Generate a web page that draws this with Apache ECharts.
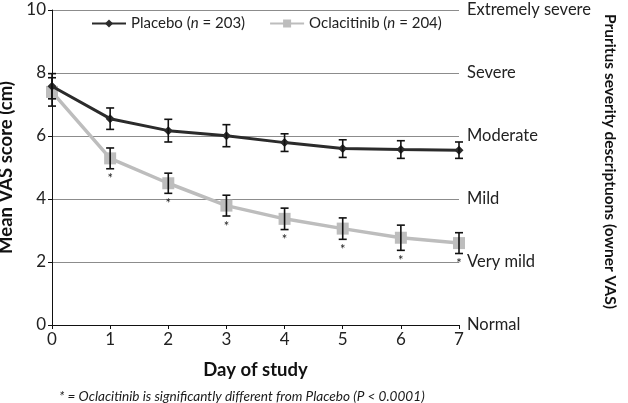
<!DOCTYPE html>
<html>
<head>
<meta charset="utf-8">
<script src="https://cdn.jsdelivr.net/npm/echarts@6/dist/echarts.min.js"></script>
<style>html,body{margin:0;padding:0;background:#fff}#c{width:628px;height:403px}</style>
</head>
<body>
<div id="c"></div>
<script>
var days = [0, 1, 2, 3, 4, 5, 6, 7];
var placeboMean = [7.58, 6.55, 6.17, 6.01, 5.79, 5.6, 5.57, 5.55];
var placeboErr  = [0.4, 0.34, 0.36, 0.35, 0.28, 0.28, 0.28, 0.26];
var oclaMean    = [7.4, 5.29, 4.5, 3.79, 3.37, 3.06, 2.77, 2.6];
var oclaErr     = [0.45, 0.33, 0.32, 0.33, 0.34, 0.34, 0.4, 0.33];
var significant = [false, true, true, true, true, true, true, true];
var seriesNames = ['Placebo', 'Oclacitinib'];
var seriesN = [203, 204];
var yTicks = [0, 2, 4, 6, 8, 10];
var severityLabels = ['Normal', 'Very mild', 'Mild', 'Moderate', 'Severe', 'Extremely severe'];
var footnote = '* = Oclacitinib is significantly different from Placebo (P < 0.0001)';

var FONT = 'Lato';
function pts(mean) { return days.map(function (d, i) { return [d, mean[i]]; }); }
function errData(mean, err) { return days.map(function (d, i) { return [d, mean[i], err[i], significant[i] ? 1 : 0]; }); }

function errRender(withStar) {
  return function (params, api) {
    var x = api.value(0), m = api.value(1), e = api.value(2);
    var hi = api.coord([x, m + e]);
    var lo = api.coord([x, m - e]);
    var cap = 4;
    var st = { stroke: '#111', lineWidth: 1.6 };
    var children = [
      { type: 'line', shape: { x1: hi[0], y1: hi[1], x2: lo[0], y2: lo[1] }, style: st },
      { type: 'line', shape: { x1: hi[0] - cap, y1: hi[1], x2: hi[0] + cap, y2: hi[1] }, style: st },
      { type: 'line', shape: { x1: lo[0] - cap, y1: lo[1], x2: lo[0] + cap, y2: lo[1] }, style: st }
    ];
    if (withStar && api.value(3) === 1) {
      children.push({ type: 'text', style: { text: '*', x: lo[0], y: lo[1] + 4, align: 'center', verticalAlign: 'top', fontSize: 13, fontFamily: FONT, fill: '#222' } });
    }
    return { type: 'group', children: children };
  };
}

var chart = echarts.init(document.getElementById('c'));
chart.setOption({
  animation: false,
  textStyle: { fontFamily: FONT, color: '#222' },
  grid: { left: 52, right: 169, top: 10, bottom: 78, containLabel: false, outerBoundsMode: 'none' },
  title: {
    text: footnote, left: 54, top: 385,
    textStyle: { fontSize: 13.6, fontStyle: 'italic', fontWeight: 'normal', color: '#1a1a1a', fontFamily: FONT }
  },
  legend: {
    left: 86, top: 11,
    itemWidth: 34, itemHeight: 10, itemGap: 24,
    data: seriesNames,
    formatter: function (name) {
      var n = seriesN[seriesNames.indexOf(name)];
      return '{a|' + name + ' (}{i|n}{a| = ' + n + ')}';
    },
    textStyle: {
      rich: {
        a: { fontSize: 15, fontFamily: FONT, color: '#222' },
        i: { fontSize: 15, fontFamily: FONT, fontStyle: 'italic', color: '#222' }
      }
    }
  },
  xAxis: {
    type: 'value', min: 0, max: 7, interval: 1,
    name: 'Day of study', nameLocation: 'middle', nameGap: 36,
    nameTextStyle: { fontSize: 18.5, fontWeight: 'bold', color: '#111', fontFamily: FONT },
    axisLine: { lineStyle: { color: '#111', width: 1 } },
    axisTick: { show: true, length: 4, lineStyle: { color: '#111' } },
    axisLabel: { fontSize: 17, color: '#222', margin: 6 },
    splitLine: { show: false }
  },
  yAxis: [{
    type: 'value', min: 0, max: 10, interval: 2,
    name: 'Mean VAS score (cm)', nameLocation: 'middle', nameGap: 28,
    nameTextStyle: { fontSize: 18.5, fontWeight: 'bold', color: '#111', fontFamily: FONT },
    axisLine: { show: true, lineStyle: { color: '#111', width: 1 } },
    axisTick: { show: true, length: 4, lineStyle: { color: '#111' } },
    axisLabel: { fontSize: 17, color: '#222', margin: 6 },
    splitLine: { show: true, lineStyle: { color: '#8c8c8c', width: 1 } }
  }, {
    type: 'value', min: 0, max: 10, interval: 2, position: 'right',
    name: 'Pruritus severity descriptuons (owner VAS)', nameLocation: 'middle', nameGap: 141, nameRotate: -90,
    nameTextStyle: { fontSize: 15.5, fontWeight: 'bold', color: '#111', fontFamily: FONT, padding: [0, 12, 0, 0] },
    axisLine: { show: false }, axisTick: { show: false }, splitLine: { show: false },
    axisLabel: {
      fontSize: 16.5, color: '#222', margin: 8,
      formatter: function (v) { var i = yTicks.indexOf(v); return i >= 0 ? severityLabels[i] : ''; }
    }
  }],
  series: [{
    name: seriesNames[0], type: 'line', data: pts(placeboMean),
    symbol: 'diamond', symbolSize: 9,
    lineStyle: { color: '#2b2b2b', width: 3 },
    itemStyle: { color: '#2b2b2b' }, z: 3
  }, {
    name: seriesNames[1], type: 'line', data: pts(oclaMean),
    symbol: 'rect', symbolSize: 12,
    lineStyle: { color: '#bdbdbd', width: 3.5 },
    itemStyle: { color: '#bdbdbd' }, z: 2
  }, {
    type: 'custom', data: errData(placeboMean, placeboErr), renderItem: errRender(false), z: 5, silent: true
  }, {
    type: 'custom', data: errData(oclaMean, oclaErr), renderItem: errRender(true), z: 5, silent: true
  }]
});
</script>
</body>
</html>
